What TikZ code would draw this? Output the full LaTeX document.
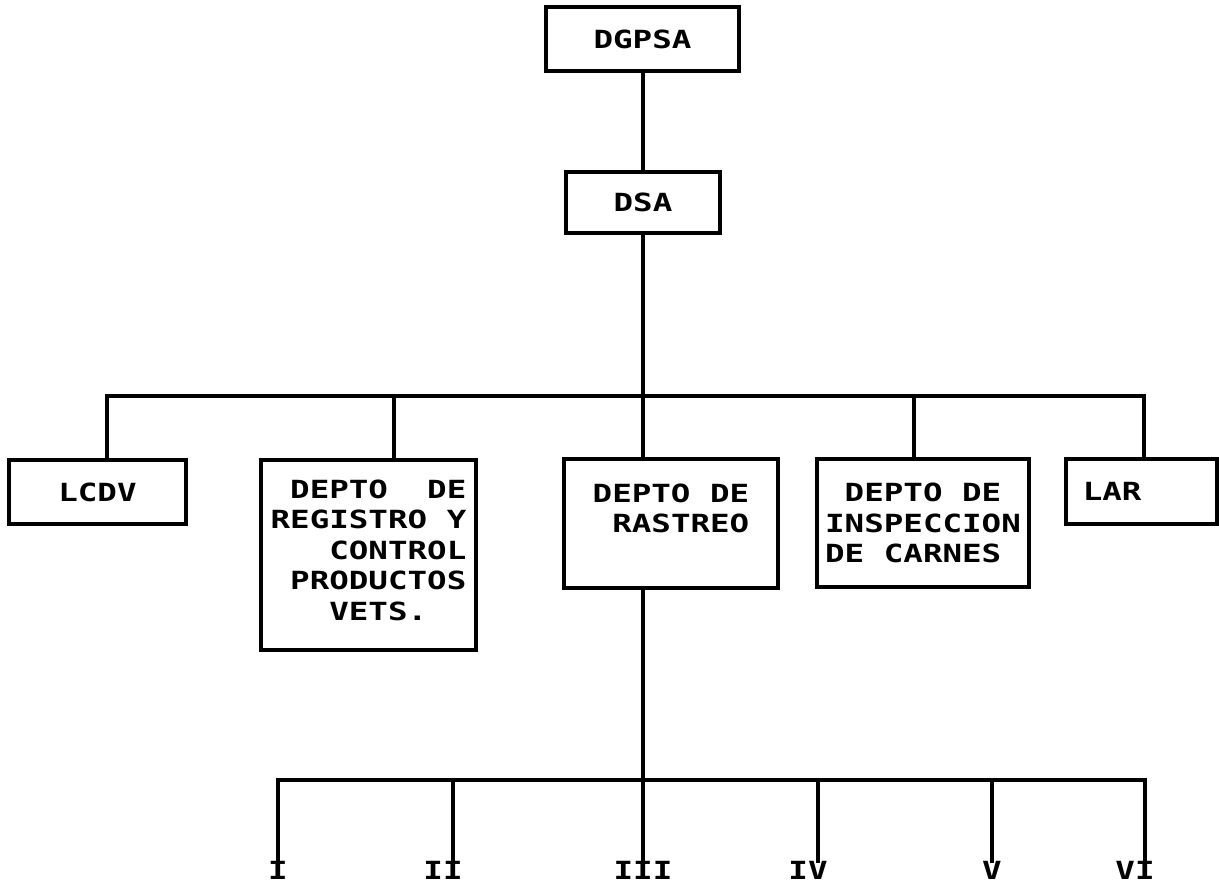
\documentclass[tikz,border=0pt]{standalone}
\usepackage{fontspec}
\newfontfamily\dotfont[FakeStretch=1.3]{DejaVu Sans Mono}
\newcommand\gap{\phantom{X}}
\tikzset{
  box/.style={draw, line width=3.5pt, rectangle, inner sep=0pt, outer sep=0pt,
    anchor=north west, align=left,
    font=\dotfont\bfseries\fontsize{25}{30.5}\selectfont},
  conn/.style={line width=3.6pt, line cap=rect},
  lab/.style={inner sep=0pt, outer sep=0pt,
    font=\dotfont\bfseries\fontsize{25}{30}\selectfont}
}
\begin{document}
\begin{tikzpicture}[x=1pt,y=-1pt]
\useasboundingbox (0,0) rectangle (1219,884);
\fill[white] (0,0) rectangle (1219,884);

% boxes
\node[box, minimum width=193, minimum height=64] (dgpsa) at (546,7) {DGPSA};
\node[box, minimum width=154, minimum height=61] (dsa) at (566,172) {DSA};
\node[box, minimum width=177, minimum height=64] (lcdv) at (9,460) {LCDV};
\node[box, minimum width=215, minimum height=190, text depth=10pt] (reg) at (261,460)
  {\gap DEPTO\gap\gap DE\\REGISTRO\gap Y\\\gap\gap\gap CONTROL\\\gap PRODUCTOS\\\gap\gap\gap VETS.};
\node[box, minimum width=214, minimum height=129] (ras) at (564,459)
  {DEPTO\gap DE\\\gap RASTREO\\\gap};
\node[box, minimum width=212, minimum height=128] (insp) at (817,459)
  {\gap DEPTO\gap DE\\INSPECCION\\DE\gap CARNES};
\node[box, minimum width=151, minimum height=65] (lar) at (1066,459) {LAR\gap\gap\gap};

% bus coordinates
\coordinate (b1) at (107,396);
\coordinate (b2) at (394,396);
\coordinate (b3) at (643,396);
\coordinate (b4) at (914,396);
\coordinate (b5) at (1144,396);

\coordinate (c1) at (278,780);
\coordinate (c2) at (453,780);
\coordinate (c3) at (643,780);
\coordinate (c4) at (818,780);
\coordinate (c5) at (992,780);
\coordinate (c6) at (1145,780);

% labels
\node[lab] (l1) at (278,870) {I};
\node[lab] (l2) at (443,870) {II};
\node[lab] (l3) at (643,870) {III};
\node[lab] (l4) at (808,870) {IV};
\node[lab] (l5) at (992,870) {V};
\node[lab] (l6) at (1135,870) {VI};

% connectors
\draw[conn] (dgpsa.south -| b3) -- (dsa.north -| b3);
\draw[conn] (dsa.south -| b3) -- (b3);
\draw[conn] (b1) -- (b5);
\draw[conn] (b1) -- (b1 |- lcdv.north);
\draw[conn] (b2) -- (b2 |- reg.north);
\draw[conn] (b3) -- (b3 |- ras.north);
\draw[conn] (b4) -- (b4 |- insp.north);
\draw[conn] (b5) -- (b5 |- lar.north);

\draw[conn] (c3 |- ras.south) -- (c3);
\draw[conn] (c1) -- (c6);
\draw[conn] (c1) -- (c1 |- l1.north);
\draw[conn] (c2) -- (c2 |- l2.north);
\draw[conn] (c3) -- (c3 |- l3.north);
\draw[conn] (c4) -- (c4 |- l4.north);
\draw[conn] (c5) -- (c5 |- l5.north);
\draw[conn] (c6) -- (c6 |- l6.north);
\end{tikzpicture}
\end{document}
